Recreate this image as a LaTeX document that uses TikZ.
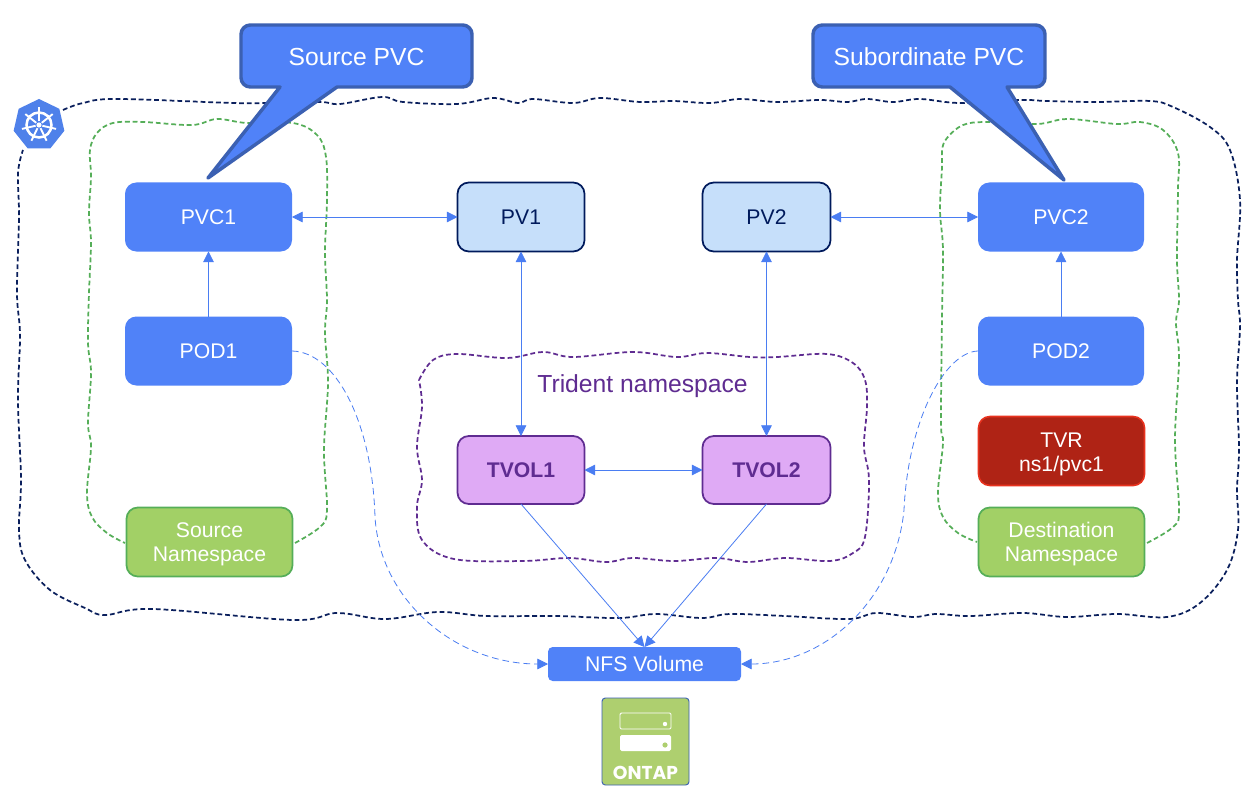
\documentclass[tikz,border=0pt]{standalone}
\usepackage{fontspec}
\setmainfont{Liberation Sans}
\newfontfamily\ontapfont{Poppins}
\usetikzlibrary{arrows.meta,shapes.geometric}
\definecolor{kblue}{HTML}{5082F8}
\definecolor{kedge}{HTML}{3B60B2}
\definecolor{karrow}{HTML}{4A7DF2}
\definecolor{knavy}{HTML}{0A1F5C}
\definecolor{pvfill}{HTML}{C6DFFA}
\definecolor{pvedge}{HTML}{001A5C}
\definecolor{kpurple}{HTML}{5F2C91}
\definecolor{tvfill}{HTML}{DFAAF5}
\definecolor{kred}{HTML}{AF2315}
\definecolor{kredge}{HTML}{E8321E}
\definecolor{gfill}{HTML}{A2D066}
\definecolor{gedge}{HTML}{55AE58}
\definecolor{ofill}{HTML}{AECF6F}
\definecolor{k8sblue}{HTML}{4F81EA}
\tikzset{
  sz/.style 2 args={minimum width=#1*0.75pt,minimum height=#2*0.75pt},
  base/.style={rectangle,rounded corners=8.5pt,align=center,outer sep=0pt,inner sep=0pt,
    font=\fontsize{15.9}{18}\selectfont},
  bluebox/.style={base,fill=kblue,text=white},
  pvbox/.style={base,fill=pvfill,draw=pvedge,line width=1.3pt,text=pvedge},
  tvbox/.style={base,fill=tvfill,draw=kpurple,line width=1.3pt,text=kpurple,font=\fontsize{15.9}{18}\selectfont\bfseries},
  redbox/.style={base,fill=kred,draw=kredge,line width=1.2pt,text=white},
  greenbox/.style={base,fill=gfill,draw=gedge,line width=1.3pt,text=white},
  wave/.style={line width=1.3pt,dash pattern=on 3.6pt off 2.2pt,smooth,tension=0.6},
  conn/.style={draw=karrow,line width=0.6pt},
  two/.style={conn,{Triangle[length=8pt,width=8pt]}-{Triangle[length=8pt,width=8pt]}},
  one/.style={conn,-{Triangle[length=8pt,width=8pt]}},
  dashconn/.style={one,dash pattern=on 5pt off 3pt},
  callout/.style={fill=kblue,draw=kedge,line width=2.6pt,line join=round},
  calltext/.style={text=white,font=\fontsize{18.5}{22}\selectfont,inner sep=0pt},
}
\begin{document}
\begin{tikzpicture}[x=0.75pt,y=-0.75pt]
\useasboundingbox (0,0) rectangle (1260,806);
\fill[white] (0,0) rectangle (1260,806);

% outer cluster outline
\draw[wave,draw=knavy] plot coordinates {(63,110)(83,103)(117,99)(233,103)(267,103)(320,102)(340,104)(382,97)(403,102)(457,104)(493,98)(518,103)(533,99)(573,103)(600,98)(640,102)(673,101)(710,103)(740,99)(777,102)(820,100)(847,102)(867,99)(893,102)(920,99)(960,103)(1020,100)(1047,101)(1097,102)(1150,101)(1173,107)(1210,127)(1230,150)(1240,200)(1237,260)(1238,300)(1240,327)(1237,383)(1239,450)(1237,490)(1238,530)(1227,570)(1200,603)(1167,617)(1117,614)(1067,617)(1023,613)(970,616)(936,614)(913,617)(876,613)(849,619)(785,616)(730,614)(702,618)(656,614)(619,618)(555,616)(486,616)(438,612)(385,619)(337,613)(293,620)(153,609)(105,615)(85,608)(50,590)(25,560)(19,530)(21,480)(18,400)(20,335)(17,293)(19,217)(18,173)(23,150)};

% namespaces
\draw[wave,draw=gedge] plot coordinates {(295,543)(320,527)(327,510)(324,450)(328,383)(325,333)(327,300)(325,253)(327,200)(326,157)(317,135)(293,123)(247,123)(217,119)(192,125)(143,122)(113,123)(97,133)(90,150)(91,177)(89,213)(91,243)(89,293)(88,343)(91,373)(88,423)(91,447)(87,493)(92,517)(107,533)(125,543)};
\draw[wave,draw=gedge] plot coordinates {(1147,543)(1173,527)(1179,510)(1175,440)(1179,360)(1176,323)(1179,300)(1177,260)(1178,190)(1178,153)(1163,130)(1140,122)(1117,124)(1068,119)(1037,124)(987,122)(963,125)(947,138)(942,150)(942,167)(940,210)(943,250)(942,317)(941,423)(943,443)(938,493)(943,517)(958,533)(977,542)};
\draw[wave,draw=kpurple] plot coordinates {(419,380)(433,360)(457,354)(507,358)(543,352)(573,357)(633,352)(677,357)(707,353)(750,357)(777,357)(827,354)(853,363)(865,380)(867,407)(864,447)(869,480)(865,537)(853,553)(830,561)(785,558)(748,562)(716,558)(674,561)(633,558)(606,562)(569,558)(523,561)(454,559)(422,540)(417,507)(422,480)(417,447)(422,407)(419,380)};

% callouts
\draw[callout] (337,87) -- (208,178) -- (280,87) [rounded corners=7pt] -- (241,87) -- (241,25) -- (472,25) -- (472,87) [sharp corners] -- cycle;
\draw[callout] (950,87) -- (1064,180) -- (1007,87) [rounded corners=7pt] -- (1045,87) -- (1045,25) -- (813,25) -- (813,87) [sharp corners] -- cycle;
\node[calltext] (srcpvc) at (356.5,57) {Source PVC};
\node[calltext] (subpvc) at (929,57) {Subordinate PVC};

% k8s icon
\node[regular polygon,regular polygon sides=7,fill=k8sblue,minimum size=39pt,inner sep=0pt,outer sep=0pt] (k8s) at (39,125) {};
\draw[white,line width=1.9pt] (k8s.center) circle (12.5);
\fill[white] (k8s.center) circle (2.6);
\foreach \a in {-90,-38.6,12.9,64.3,115.7,167.1,218.6}{
  \draw[white,line width=1.4pt] (k8s.center) ++(\a:3.5) -- ++(\a:14);
}

% boxes
\node[bluebox,sz={167}{69}] (pvc1) at (208.5,217) {PVC1};
\node[bluebox,sz={167}{69}] (pod1) at (208.5,351) {POD1};
\node[bluebox,sz={166}{69}] (pvc2) at (1061,217) {PVC2};
\node[bluebox,sz={166}{69}] (pod2) at (1061,351) {POD2};
\node[pvbox,sz={127}{69}] (pv1) at (521,217) {PV1};
\node[pvbox,sz={128}{69}] (pv2) at (766.5,217) {PV2};
\node[tvbox,sz={127}{68}] (tvol1) at (521,470) {TVOL1};
\node[tvbox,sz={128}{68}] (tvol2) at (766.5,470) {TVOL2};
\node[redbox,sz={166}{69}] (tvr) at (1061.5,451) {\rule{0pt}{16pt}TVR\\ns1/pvc1};
\node[greenbox,sz={166}{69}] (srcns) at (209.5,542) {\rule{0pt}{14.5pt}Source\\Namespace};
\node[greenbox,sz={166}{69}] (dstns) at (1061.5,542) {\rule{0pt}{14.5pt}Destination\\Namespace};
\node[bluebox,rounded corners=3.5pt,sz={193}{34}] (nfs) at (644.5,664) {NFS Volume};
\node[text=kpurple,font=\fontsize{18.5}{22}\selectfont,inner sep=0pt] (trident) at (642.5,386.5) {Trident namespace};

% connectors
\draw[two] (pvc1.east) -- (pv1.west);
\draw[two] (pv2.east) -- (pvc2.west);
\draw[two] (pv1.south) -- (tvol1.north);
\draw[two] (pv2.south) -- (tvol2.north);
\draw[two] (tvol1.east) -- (tvol2.west);
\draw[one] (pod1.north) -- (pvc1.south);
\draw[one] (pod2.north) -- (pvc2.south);
\draw[one] (tvol1.south) -- (nfs.north);
\draw[one] (tvol2.south) -- (nfs.north);
\draw[dashconn] (pod1.east) .. controls (335,352) and (372,420) .. (375,517) .. controls (380,600) and (455,664) .. (nfs.west);
\draw[dashconn] (pod2.west) .. controls (945,352) and (908,420) .. (904,510) .. controls (895,600) and (825,664) .. (nfs.east);

% ONTAP tile
\node[rectangle,rounded corners=2.5pt,fill=ofill,draw=kedge,line width=0.7pt,sz={87}{87},outer sep=0pt] (ontap) at (645.5,741.5) {};
\draw[white,line width=0.7pt,rounded corners=1pt] (620,713) rectangle (671,729);
\fill[white] (665,724) circle (2.2);
\fill[white,rounded corners=1.2pt] (620,735) rectangle (671,751);
\fill[ofill] (665,745) circle (2.6);
\node[text=white,inner sep=0pt,font=\fontsize{14}{16}\selectfont\ontapfont\bfseries] (ontaplabel) at (645.5,772.5) {ONTAP};
\end{tikzpicture}
\end{document}
